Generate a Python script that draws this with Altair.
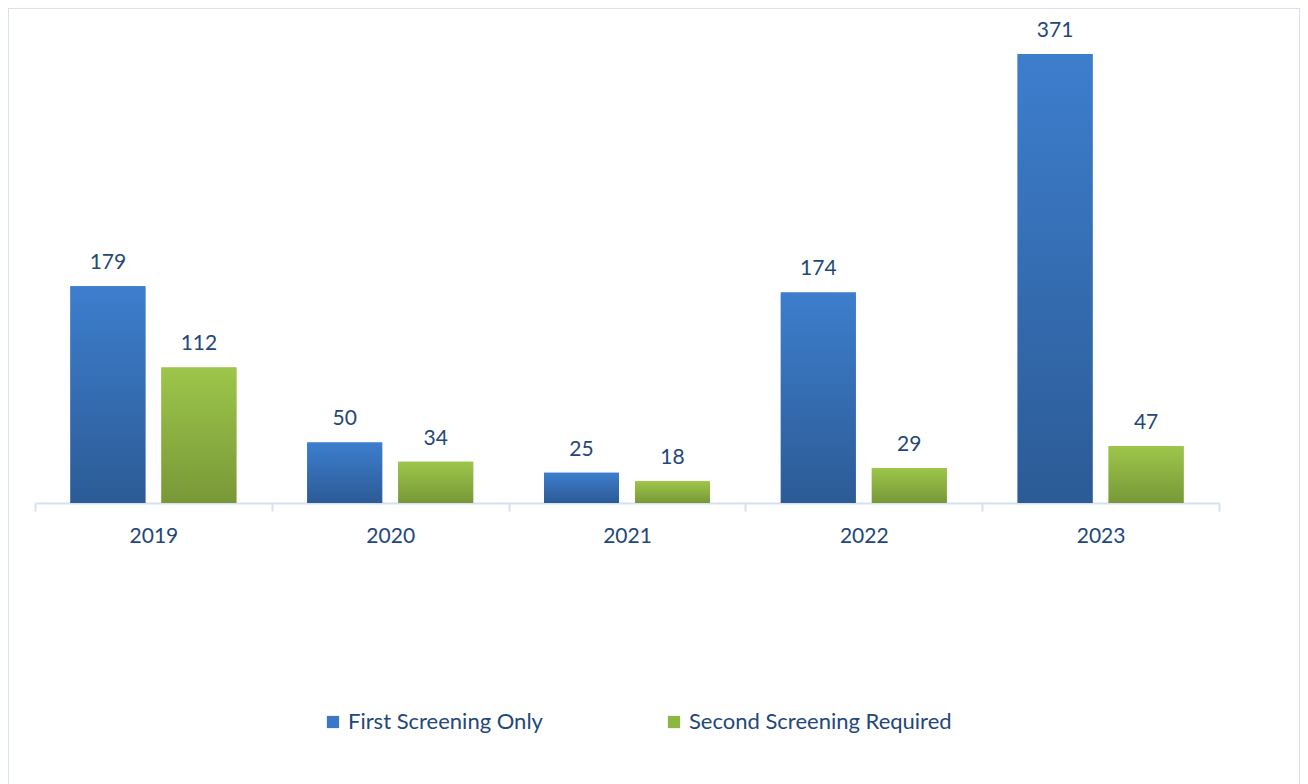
import altair as alt
import pandas as pd

years = ["2019", "2020", "2021", "2022", "2023"]
series = ["First Screening Only", "Second Screening Required"]
first_only = [179, 50, 25, 174, 371]
second_required = [112, 34, 18, 29, 47]

rows = []
for i, yr in enumerate(years):
    rows.append({"year": yr, "series": series[0], "value": first_only[i]})
    rows.append({"year": yr, "series": series[1], "value": second_required[i]})
df = pd.DataFrame(rows)

FONT = "Lato"
TEXT_COLOR = "#23477a"
FRAME = "#d5e1f0"

blue_grad = {
    "gradient": "linear", "x1": 0, "x2": 0, "y1": 0, "y2": 1,
    "stops": [{"offset": 0, "color": "#3d7ecd"}, {"offset": 1, "color": "#2c5b96"}],
}
green_grad = {
    "gradient": "linear", "x1": 0, "x2": 0, "y1": 0, "y2": 1,
    "stops": [{"offset": 0, "color": "#9dc64a"}, {"offset": 1, "color": "#789838"}],
}

x_enc = alt.X(
    "year:N",
    sort=years,
    scale=alt.Scale(range=[27, 1211], paddingInner=0, paddingOuter=0),
    axis=alt.Axis(
        title=None, labelAngle=0, grid=False, offset=-295,
        domainColor=FRAME, domainWidth=2, tickColor=FRAME, tickWidth=2,
        tickSize=8, tickBand="extent", labelFont=FONT, labelFontSize=21,
        labelColor=TEXT_COLOR, labelPadding=14,
    ),
)
xoff = alt.XOffset(
    "series:N", sort=series,
    scale=alt.Scale(domain=series, paddingInner=0.176, paddingOuter=0.389),
)
y_enc = alt.Y("value:Q", scale=alt.Scale(domain=[0, 371], range=[495, 46]), axis=None)

base = alt.Chart(df)

legend_bars = base.mark_bar().encode(
    x=x_enc, xOffset=xoff, y=y_enc,
    color=alt.Color(
        "series:N",
        scale=alt.Scale(domain=series, range=["#3a78c6", "#8cb842"]),
        legend=alt.Legend(
            title=None, orient="none", direction="horizontal",
            legendX=314, legendY=703, symbolType="square", symbolSize=150,
            symbolStrokeWidth=0, labelFont=FONT, labelFontSize=22,
            labelColor=TEXT_COLOR, labelOffset=4, columnPadding=120,
            labelLimit=400,
        ),
    ),
)

grad_bars = base.mark_bar().encode(
    x=x_enc, xOffset=xoff, y=y_enc,
    color=alt.condition(
        alt.datum.series == series[0], alt.value(blue_grad), alt.value(green_grad)
    ),
)

labels = base.mark_text(
    font=FONT, fontSize=21, color=TEXT_COLOR, baseline="alphabetic", dy=-17
).encode(
    x=x_enc, xOffset=xoff, y=y_enc, text=alt.Text("value:Q")
)

chart = (
    alt.layer(legend_bars, grad_bars, labels)
    .properties(width=1292, height=790, padding=0, background="white")
    .configure_view(stroke=FRAME, strokeWidth=2)
)

chart.save("out.html", embed_options={"renderer": "svg", "actions": False})
